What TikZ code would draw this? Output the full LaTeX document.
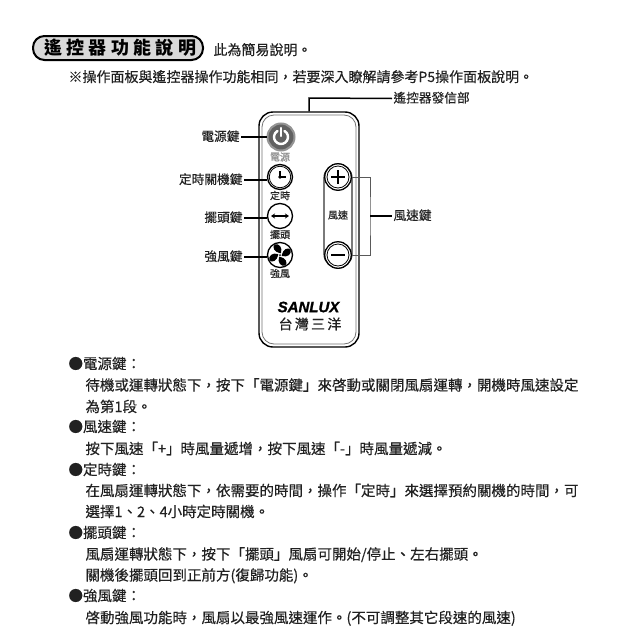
\documentclass[tikz,border=0pt]{standalone}
\usepackage{fontspec}
\setmainfont[FakeBold=0.3]{Noto Sans CJK TC}
\setsansfont[FakeBold=1.2]{Liberation Sans}
\newfontfamily\titlefont[LetterSpace=24]{Noto Sans CJK TC}
\newfontfamily\brandfont[LetterSpace=16,FakeBold=0.6]{Noto Sans CJK TC}
\usetikzlibrary{arrows.meta}
\definecolor{inkc}{gray}{0.13}
\tikzset{
  x=1pt,y=-1pt,
  lbl/.style={inner sep=0pt,outer sep=1.5pt,text=inkc,text height=10pt,text depth=2pt},
  bodytext/.style={lbl,anchor=west,font=\fontsize{14.5}{16}\selectfont},
  calltext/.style={lbl,font=\fontsize{12.7}{14}\selectfont},
  keytext/.style={inner sep=0pt,text=inkc,font=\fontsize{10}{11}\selectfont},
  leader/.style={draw=black,line width=1.5pt},
  bracket/.style={draw=black!65,line width=1pt},
  keybtn/.style={circle,draw=black,fill=white,line width=1.3pt,inner sep=0pt,minimum size=25pt},
  keyinner/.style={circle,draw=black,line width=.8pt,inner sep=0pt,minimum size=21.5pt},
  bodyshell/.style={rectangle,draw=black,fill=white,line width=1.4pt,rounded corners=14pt,inner sep=0pt},
}
\begin{document}
\begin{tikzpicture}
\path[use as bounding box,fill=white] (0,0) rectangle (640,640);

% title
\node[rectangle,rounded corners=11.5pt,draw=black,line width=2pt,fill=black!15,minimum width=170pt,minimum height=24pt,inner sep=0pt] (title) at (118,48) {};
\node[inner sep=0pt,anchor=west,text=black,font=\titlefont\bfseries\fontsize{18}{20}\selectfont] (titletext) at (44,48) {遙控器功能說明};
\node[bodytext,font=\fontsize{14}{16}\selectfont] (sub) at (212,51) {此為簡易說明。};
\node[bodytext,font=\fontsize{14}{16}\selectfont] (note) at (67,78) {※操作面板與遙控器操作功能相同，若要深入瞭解請參考P5操作面板說明。};

% remote
\node[bodyshell,minimum width=100pt,minimum height=235pt] (remote) at (309,229.5) {};
\node[rectangle,draw=black!55,line width=.8pt,rounded corners=12pt,inner sep=0pt,minimum width=94pt,minimum height=229pt] (remoteinner) at (309,229.5) {};

% capsule
\node[bodyshell,minimum width=28pt,minimum height=104pt,draw=black!80,line width=1.2pt] (capsule) at (338,216) {};

% callout labels
\node[calltext,anchor=east] (lpower) at (241,137) {電源鍵};
\node[calltext,anchor=east] (ltimer) at (244,180) {定時關機鍵};
\node[calltext,anchor=east] (lswing) at (244,218) {擺頭鍵};
\node[calltext,anchor=east] (lfan) at (244,257) {強風鍵};
\node[calltext,anchor=west] (lspeed) at (392,216) {風速鍵};
\node[calltext,anchor=west] (lemit) at (392,98.5) {遙控器發信部};

% buttons
\node[circle,draw=black!42,fill=black!62,line width=2pt,inner sep=0pt,minimum size=27pt] (power) at (281,137) {};
\node[keybtn] (timer) at (280,177) {};
\node[keyinner] (timerin) at (280,177) {};
\node[keybtn] (swing) at (280,216) {};
\node[keybtn] (fan) at (280,255) {};
\node[keybtn,minimum size=26.5pt] (plus) at (338,177) {};
\node[keyinner,minimum size=22pt] (plusin) at (338,177) {};
\node[keybtn,minimum size=26.5pt] (minus) at (338,255) {};
\node[keyinner,minimum size=22pt] (minusin) at (338,255) {};

% connectors
\draw[leader] (lpower.east) -- (lpower.east -| power.west);
\draw[leader] (ltimer.east) -- (ltimer.east -| timer.west);
\draw[leader] (lswing.east) -- (lswing.east -| swing.west);
\draw[leader] (lfan.east) -- (lfan.east -| fan.west);
\coordinate (brk) at (370,216);
\draw[bracket] (plus.east) -| (brk) |- (minus.east);
\draw[leader] (brk) -- (lspeed.west);
\coordinate (emit) at (309,98);
\draw[leader] (lemit.west) -- (emit) -- (emit |- remote.north);

% key glyphs
\draw[white,line width=2.4pt,line cap=round] (power.center) ++(3.5,-6.06) arc[start angle=60,end angle=-240,radius=7pt];
\draw[white,line width=2.4pt,line cap=round] (power.center) ++(0,-9) -- ++(0,8);
\draw[black,line width=1.2pt] (timer.center) ++(0,-6) -- ++(0,6) -- ++(5.5,0);
\fill[black] (timer.center) circle[radius=1.8pt];
\draw[black,line width=1.6pt,{Stealth[length=4pt,width=5pt]}-{Stealth[length=4pt,width=5pt]}] (swing.center) ++(-9,0) -- ++(18,0);
\foreach \a in {-10,80,170,260}
  \fill[black,shift={(fan.center)},rotate=\a] (1.8,-.6) .. controls (2,-6) and (6,-9.5) .. (9.5,-7) .. controls (11.5,-3) and (8,1.5) .. (1.8,.6) -- cycle;
\fill[white] (fan.center) circle[radius=1.7pt];
\fill[black] (fan.center) circle[radius=1pt];
\draw[black,line width=2pt] (plus.center) ++(-7,0) -- ++(14,0);
\draw[black,line width=2pt] (plus.center) ++(0,-7) -- ++(0,14);
\draw[black,line width=2pt] (minus.center) ++(-7,0) -- ++(14,0);

% key captions
\node[keytext,text=black!45] (tpower) at (280,157) {電源};
\node[keytext] (ttimer) at (280,195.5) {定時};
\node[keytext] (tswing) at (280,234.5) {擺頭};
\node[keytext] (tfan) at (280,273.5) {強風};
\node[keytext] (tspeed) at (338,215) {風速};

% brand
\node[inner sep=0pt,text=black,font=\sffamily\bfseries\itshape\fontsize{15}{17}\selectfont] (brand) at (308.5,307) {SANLUX};
\node[inner sep=0pt,text=inkc,font=\brandfont\fontsize{14}{16}\selectfont] (brandcn) at (310,324) {台灣三洋};

% body
\node[bodytext] (a1) at (67,365) {●電源鍵：};
\node[bodytext] (a2) at (84,386.5) {待機或運轉狀態下，按下「電源鍵」來啓動或關閉風扇運轉，開機時風速設定};
\node[bodytext] (a3) at (84,408) {為第1段。};
\node[bodytext] (b1) at (67,428) {●風速鍵：};
\node[bodytext] (b2) at (84,450) {按下風速「+」時風量遞增，按下風速「-」時風量遞減。};
\node[bodytext] (c1) at (67,471) {●定時鍵：};
\node[bodytext] (c2) at (84,492) {在風扇運轉狀態下，依需要的時間，操作「定時」來選擇預約關機的時間，可};
\node[bodytext] (c3) at (84,513) {選擇1、2、4小時定時關機。};
\node[bodytext] (d1) at (67,534) {●擺頭鍵：};
\node[bodytext] (d2) at (84,555.5) {風扇運轉狀態下，按下「擺頭」風扇可開始/停止、左右擺頭。};
\node[bodytext] (d3) at (84,576.5) {關機後擺頭回到正前方(復歸功能)。};
\node[bodytext] (e1) at (67,597) {●強風鍵：};
\node[bodytext] (e2) at (84,619) {啓動強風功能時，風扇以最強風速運作。(不可調整其它段速的風速)};
\end{tikzpicture}
\end{document}
